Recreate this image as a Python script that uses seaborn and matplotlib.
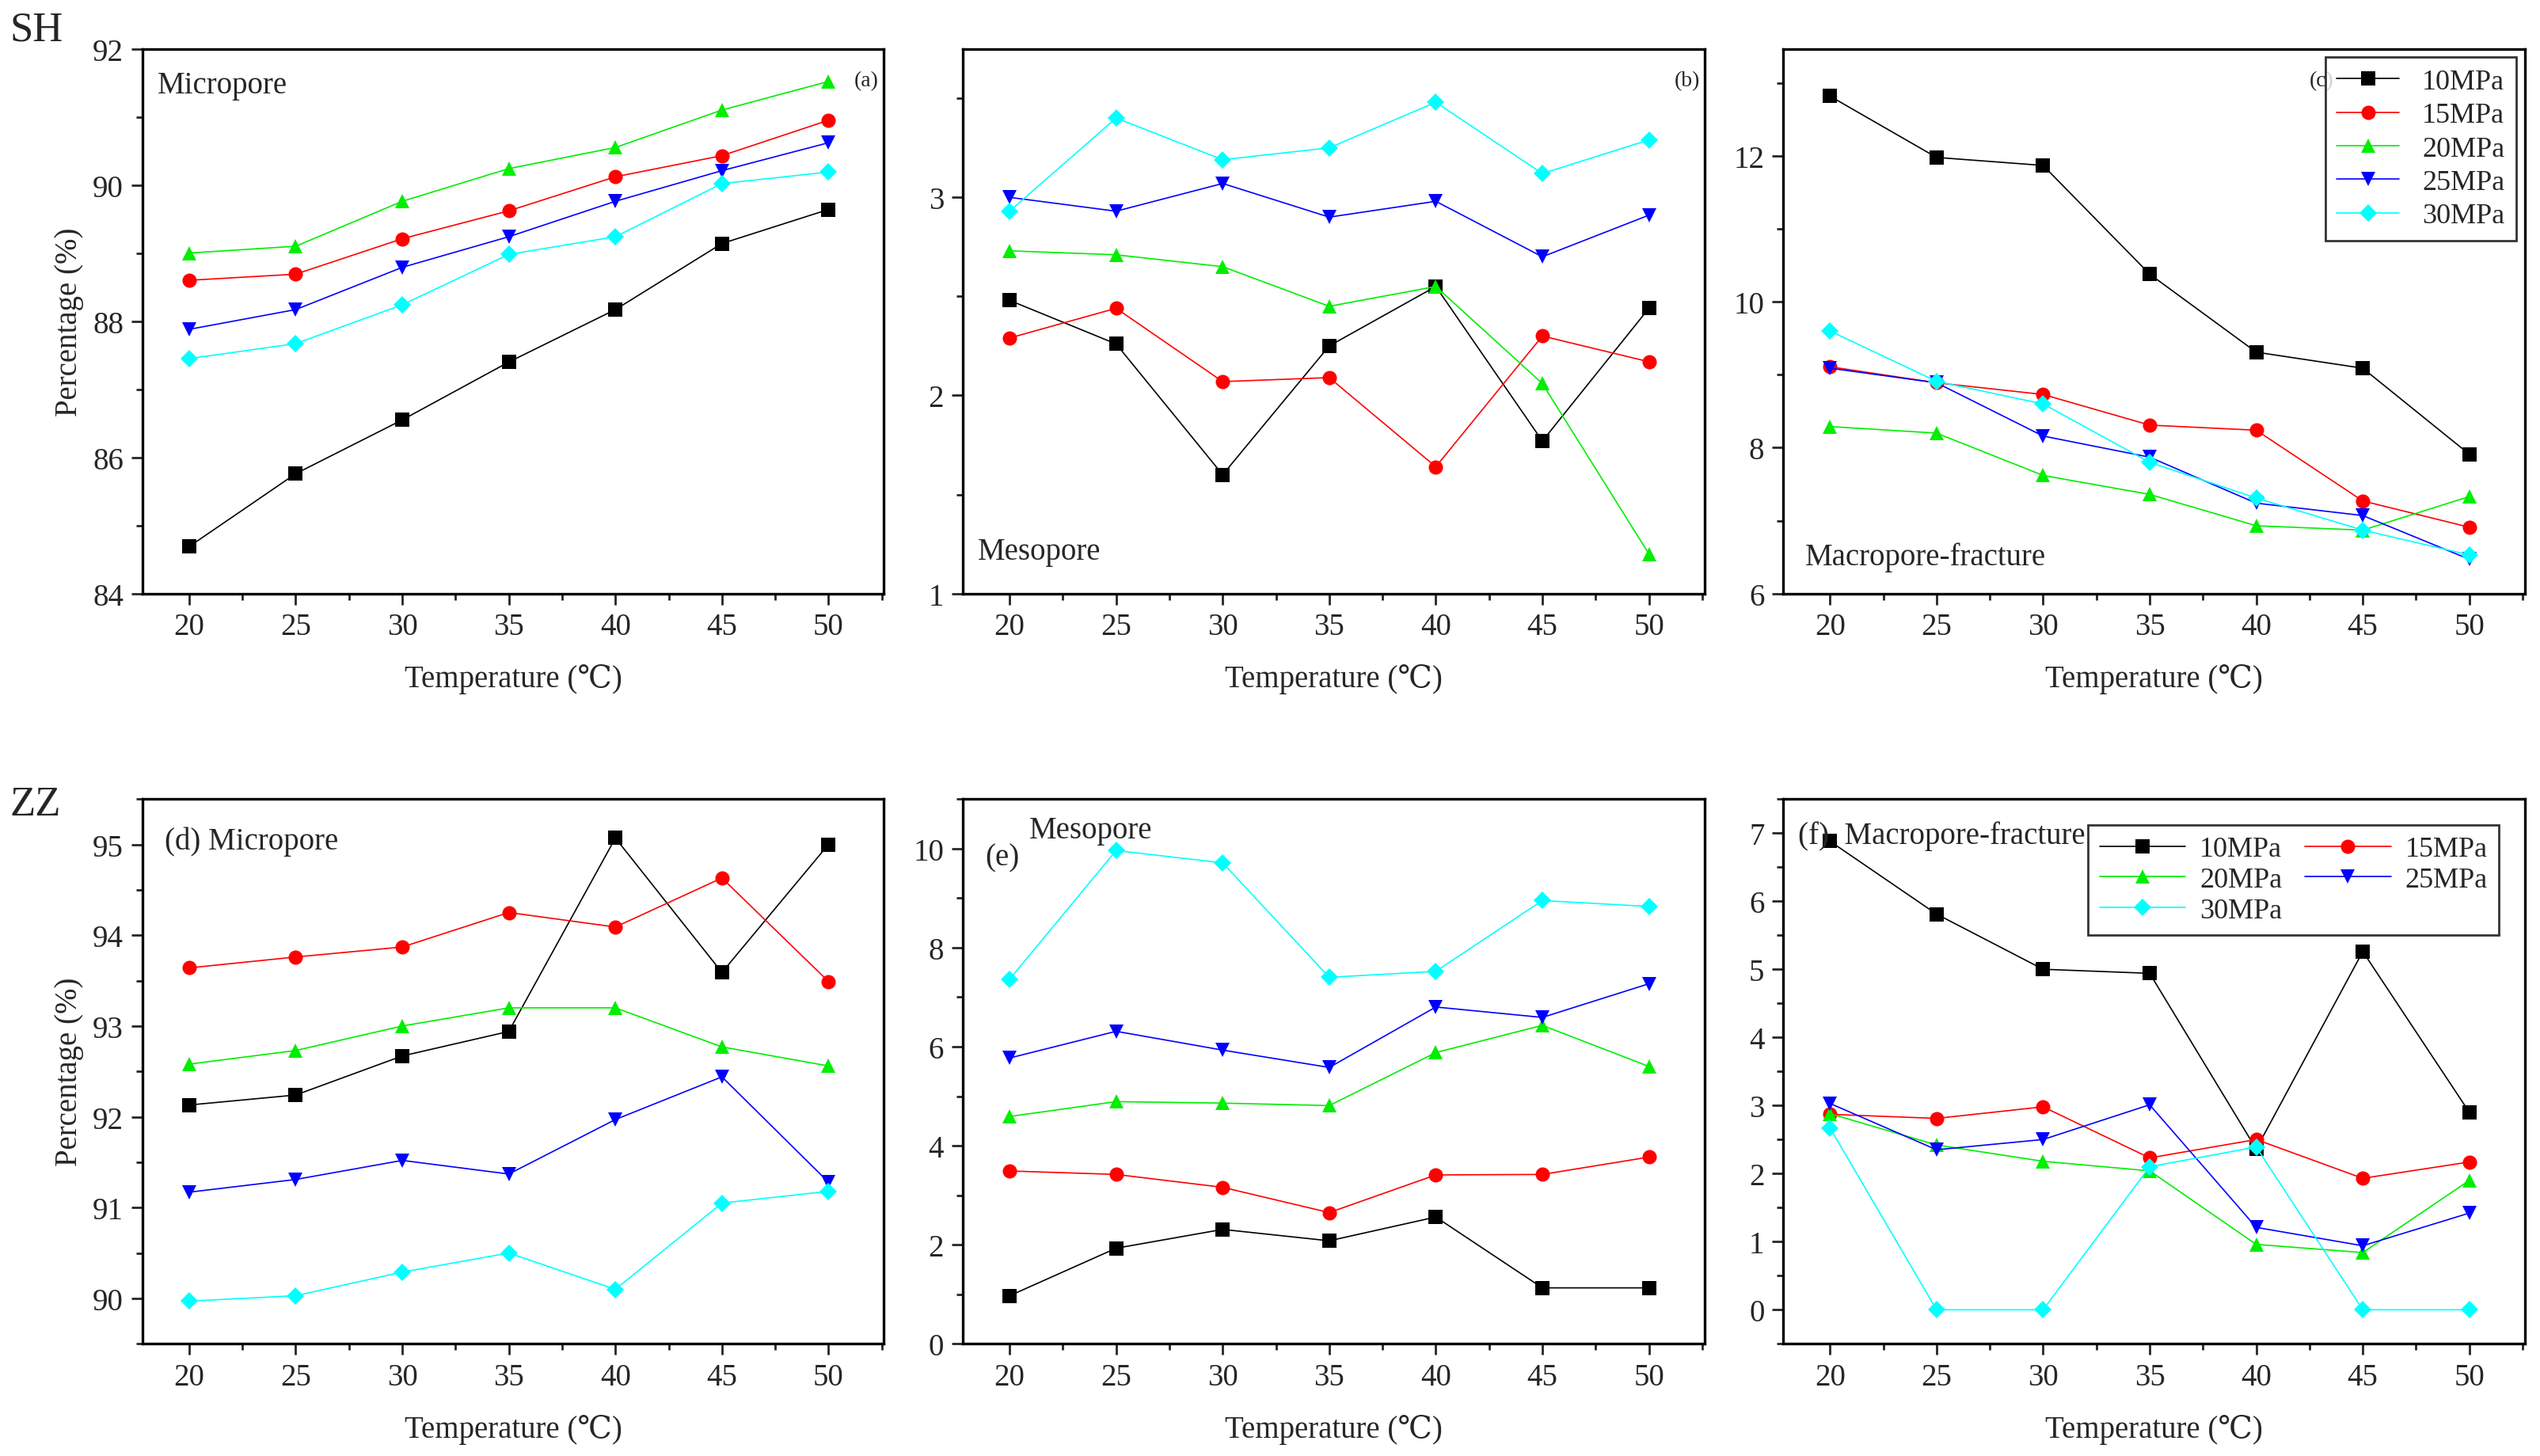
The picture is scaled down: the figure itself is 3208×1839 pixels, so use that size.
import matplotlib
matplotlib.use("Agg")
import matplotlib.pyplot as plt
import seaborn as sns
import pandas as pd
from matplotlib.ticker import MultipleLocator

temps = [20, 25, 30, 35, 40, 45, 50]
pressures = ["10MPa", "15MPa", "20MPa", "25MPa", "30MPa"]

# SH
sh_micro = {
    "10MPa": [84.69, 85.76, 86.55, 87.40, 88.17, 89.14, 89.64],
    "15MPa": [88.60, 88.69, 89.21, 89.62, 90.12, 90.43, 90.95],
    "20MPa": [89.00, 89.10, 89.76, 90.24, 90.55, 91.10, 91.52],
    "25MPa": [87.88, 88.17, 88.79, 89.24, 89.76, 90.21, 90.62],
    "30MPa": [87.45, 87.67, 88.24, 88.98, 89.24, 90.02, 90.19],
}
sh_meso = {
    "10MPa": [2.48, 2.26, 1.60, 2.25, 2.55, 1.77, 2.44],
    "15MPa": [2.29, 2.44, 2.07, 2.09, 1.64, 2.30, 2.17],
    "20MPa": [2.73, 2.71, 2.65, 2.45, 2.55, 2.06, 1.20],
    "25MPa": [3.00, 2.93, 3.07, 2.90, 2.98, 2.70, 2.91],
    "30MPa": [2.93, 3.40, 3.19, 3.25, 3.48, 3.12, 3.29],
}
sh_macro = {
    "10MPa": [12.82, 11.98, 11.87, 10.38, 9.31, 9.09, 7.91],
    "15MPa": [9.11, 8.89, 8.73, 8.31, 8.24, 7.27, 6.91],
    "20MPa": [8.29, 8.20, 7.62, 7.36, 6.93, 6.87, 7.33],
    "25MPa": [9.09, 8.89, 8.16, 7.87, 7.24, 7.07, 6.47],
    "30MPa": [9.60, 8.91, 8.60, 7.80, 7.31, 6.87, 6.53],
}
# ZZ
zz_micro = {
    "10MPa": [92.13, 92.24, 92.67, 92.94, 95.07, 93.59, 95.00],
    "15MPa": [93.64, 93.76, 93.87, 94.25, 94.09, 94.63, 93.49],
    "20MPa": [92.58, 92.73, 93.00, 93.20, 93.20, 92.77, 92.56],
    "25MPa": [91.17, 91.31, 91.52, 91.37, 91.97, 92.44, 91.28],
    "30MPa": [89.97, 90.03, 90.29, 90.50, 90.10, 91.05, 91.18],
}
zz_meso = {
    "10MPa": [0.97, 1.93, 2.31, 2.08, 2.56, 1.13, 1.13],
    "15MPa": [3.49, 3.42, 3.16, 2.65, 3.41, 3.42, 3.77],
    "20MPa": [4.59, 4.89, 4.86, 4.81, 5.88, 6.43, 5.60],
    "25MPa": [5.77, 6.31, 5.93, 5.58, 6.80, 6.59, 7.27],
    "30MPa": [7.36, 9.96, 9.71, 7.40, 7.52, 8.95, 8.83],
}
zz_macro = {
    "10MPa": [6.88, 5.81, 5.00, 4.94, 2.36, 5.26, 2.90],
    "15MPa": [2.87, 2.81, 2.98, 2.23, 2.50, 1.93, 2.17],
    "20MPa": [2.88, 2.42, 2.18, 2.04, 0.96, 0.84, 1.90],
    "25MPa": [3.03, 2.35, 2.50, 3.01, 1.21, 0.94, 1.42],
    "30MPa": [2.67, 0.00, 0.00, 2.10, 2.39, 0.00, 0.00],
}

colors = ["black", "red", "#00ee00", "blue", "cyan"]
markers = ["s", "o", "^", "v", "D"]

sns.set_style("white")
plt.rcParams["font.family"] = ["Liberation Serif", "DejaVu Serif"]

fig = plt.figure(figsize=(16.04, 9.2), dpi=200)

cols = [0.056, 0.379, 0.702]
w = 0.292
rows = [0.592, 0.077]
h = 0.374

panels = [
    (sh_micro, (84, 92.0), 2, 1, 0, 0),
    (sh_meso, (1, 3.75), 1, 0.5, 0, 1),
    (sh_macro, (6, 13.47), 2, 1, 0, 2),
    (zz_micro, (89.5, 95.5), 1, 0.5, 1, 0),
    (zz_meso, (0, 11), 2, 1, 1, 1),
    (zz_macro, (-0.5, 7.5), 1, 0.5, 1, 2),
]

axes = []
for data, ylim, major, minor, r, c in panels:
    ax = fig.add_axes([cols[c], rows[r], w, h])
    df = pd.DataFrame({"T": temps * 5,
                       "v": sum([data[p] for p in pressures], []),
                       "P": sum([[p] * 7 for p in pressures], [])})
    for i, p in enumerate(pressures):
        sub = df[df.P == p]
        sns.lineplot(data=sub, x="T", y="v", ax=ax, color=colors[i], marker=markers[i],
                     markersize=6.5 if markers[i] != "D" else 5.5, markeredgewidth=0,
                     linewidth=0.6, label=p, legend=False)
    ax.set_xlim(17.8, 52.6)
    ax.set_ylim(*ylim)
    ax.set_xticks(temps)
    ax.xaxis.set_minor_locator(MultipleLocator(2.5))
    ax.yaxis.set_major_locator(MultipleLocator(major))
    ax.yaxis.set_minor_locator(MultipleLocator(minor))
    ax.tick_params(axis="both", which="major", direction="out", length=5, width=1,
                   labelsize=14, bottom=True, left=True, top=False, right=False)
    ax.tick_params(axis="both", which="minor", direction="out", length=3, width=1,
                   bottom=True, left=True, top=False, right=False)
    for s in ax.spines.values():
        s.set_color("black")
        s.set_linewidth(1.2)
    ax.set_xlabel("Temperature (\u2103)", fontsize=14, labelpad=10)
    ax.set_ylabel("Percentage (%)" if c == 0 else "", fontsize=14)
    axes.append(ax)

a, b, cc, d, e, f = axes
a.text(0.02, 0.96, "Micropore", transform=a.transAxes, fontsize=14, va="top")
a.text(0.96, 0.96, "(a)", transform=a.transAxes, fontsize=10, va="top")
b.text(0.96, 0.96, "(b)", transform=b.transAxes, fontsize=10, va="top")
b.text(0.02, 0.05, "Mesopore", transform=b.transAxes, fontsize=14, va="bottom")
cc.text(0.71, 0.96, "(c)", transform=cc.transAxes, fontsize=10, va="top")
cc.text(0.03, 0.04, "Macropore-fracture", transform=cc.transAxes, fontsize=14, va="bottom")
d.text(0.03, 0.95, "(d) Micropore", transform=d.transAxes, fontsize=14, va="top")
e.text(0.03, 0.92, "(e)", transform=e.transAxes, fontsize=14, va="top")
e.text(0.09, 0.97, "Mesopore", transform=e.transAxes, fontsize=14, va="top")
f.text(0.02, 0.96, "(f)  Macropore-fracture", transform=f.transAxes, fontsize=14, va="top")

leg = cc.legend(loc="upper right", fontsize=13, frameon=True, fancybox=False,
                borderaxespad=0.3, handlelength=2.2, labelspacing=0.25)
leg.get_frame().set_edgecolor("black")

hs, ls = f.get_legend_handles_labels()
order = [0, 2, 4, 1, 3]
leg = f.legend([hs[i] for i in order], [ls[i] for i in order], loc="upper right",
               ncol=2, fontsize=13, frameon=True, fancybox=False, borderaxespad=0.9,
               handlelength=3, labelspacing=0.15, columnspacing=0.8, handletextpad=0.5)
leg.get_frame().set_edgecolor("black")

fig.text(0.004, 0.972, "SH", fontsize=19)
fig.text(0.004, 0.44, "ZZ", fontsize=19)

fig.savefig("out.png", dpi=200)
